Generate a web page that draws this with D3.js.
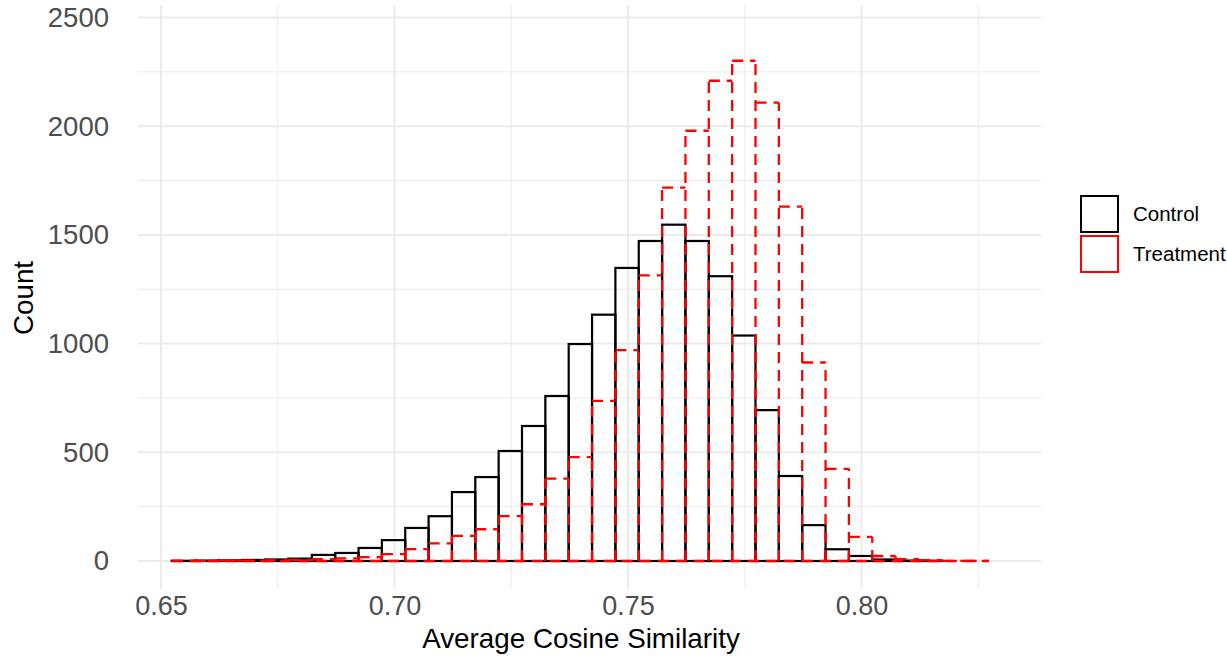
<!DOCTYPE html>
<html>
<head>
<meta charset="utf-8">
<script src="https://cdn.jsdelivr.net/npm/d3@7"></script>
<style>
  body { margin: 0; background: #fff; }
  svg { display: block; font-family: "Liberation Sans", Arial, Helvetica, sans-serif; }
</style>
</head>
<body>
<div id="hist"></div>
<script>
width = 1227
height = 656

// left edge of every bin (bin width 0.005)
binEdges = [0.6523, 0.6573, 0.6623, 0.6673, 0.6723, 0.6773, 0.6823, 0.6873, 0.6923, 0.6973,
            0.7023, 0.7073, 0.7123, 0.7173, 0.7223, 0.7273, 0.7323, 0.7373, 0.7423, 0.7473,
            0.7523, 0.7573, 0.7623, 0.7673, 0.7723, 0.7773, 0.7823, 0.7873, 0.7923, 0.7973,
            0.8023, 0.8073, 0.8123, 0.8173, 0.8223]
binWidth = 0.005

controlCounts = [1, 2, 3, 5, 7, 11, 28, 37, 60, 96,
                 152, 206, 317, 386, 506, 621, 759, 998, 1133, 1348,
                 1472, 1547, 1472, 1310, 1037, 694, 391, 165, 54, 23,
                 7, 2, 1, 0, 0]
treatmentCounts = [1, 1, 2, 2, 3, 5, 8, 12, 18, 32,
                   55, 81, 116, 146, 206, 261, 379, 478, 737, 970,
                   1314, 1717, 1979, 2209, 2301, 2108, 1630, 913, 424, 111,
                   23, 9, 4, 1, 1]

groups = ["Control", "Treatment"]
xTicks = [0.65, 0.70, 0.75, 0.80]
xMinor = [0.675, 0.725, 0.775, 0.825]
yTicks = [0, 500, 1000, 1500, 2000, 2500]
yMinor = [250, 750, 1250, 1750, 2250]

panel = ({ left: 138, right: 1041, top: 5, bottom: 589 })

x = d3.scaleLinear([0.65, 0.80], [161, 861.5])
y = d3.scaleLinear([0, 2500], [561, 17.5])

const svg = d3.select("#hist").append("svg")
    .attr("width", width)
    .attr("height", height)

// grid
grid = g => g
    .attr("stroke", "#EBEBEB")
    .call(g => g.append("g")
        .attr("stroke-width", 1)
        .selectAll("line")
        .data(yMinor)
        .join("line")
        .attr("x1", panel.left).attr("x2", panel.right)
        .attr("y1", d => y(d)).attr("y2", d => y(d)))
    .call(g => g.append("g")
        .attr("stroke-width", 1)
        .selectAll("line")
        .data(xMinor)
        .join("line")
        .attr("y1", panel.top).attr("y2", panel.bottom)
        .attr("x1", d => x(d)).attr("x2", d => x(d)))
    .call(g => g.append("g")
        .attr("stroke-width", 2)
        .selectAll("line")
        .data(yTicks)
        .join("line")
        .attr("x1", panel.left).attr("x2", panel.right)
        .attr("y1", d => y(d)).attr("y2", d => y(d)))
    .call(g => g.append("g")
        .attr("stroke-width", 2)
        .selectAll("line")
        .data(xTicks)
        .join("line")
        .attr("y1", panel.top).attr("y2", panel.bottom)
        .attr("x1", d => x(d)).attr("x2", d => x(d)))

svg.append("g").call(grid)

function bins(counts) {
    return binEdges.map((x0, i) => ({ x0: x0, x1: x0 + binWidth, n: counts[i] }))
}

// control: solid outlined bars
svg.append("g")
    .attr("fill", "none")
    .attr("stroke", "black")
    .attr("stroke-width", 2.2)
    .selectAll("rect")
    .data(bins(controlCounts))
    .join("rect")
    .attr("x", d => x(d.x0))
    .attr("width", d => x(d.x1) - x(d.x0))
    .attr("y", d => y(d.n))
    .attr("height", d => y(0) - y(d.n))

// treatment: dashed outline, each shared edge drawn once from the baseline up
const tBins = bins(treatmentCounts)
const edges = tBins.map((d, i) => ({ at: d.x0, n: Math.max(d.n, i > 0 ? tBins[i - 1].n : 0) }))
edges.push({ at: tBins[tBins.length - 1].x1, n: tBins[tBins.length - 1].n })

const red = svg.append("g")
    .attr("fill", "none")
    .attr("stroke", "#FF0000")
    .attr("stroke-width", 2.3)
    .attr("stroke-dasharray", "11,7")

red.append("line")
    .attr("x1", x(tBins[0].x0)).attr("x2", x(tBins[tBins.length - 1].x1))
    .attr("y1", y(0)).attr("y2", y(0))

red.append("g")
    .selectAll("line")
    .data(tBins)
    .join("line")
    .attr("x1", d => x(d.x0)).attr("x2", d => x(d.x1))
    .attr("y1", d => y(d.n)).attr("y2", d => y(d.n))

red.append("g")
    .selectAll("line")
    .data(edges)
    .join("line")
    .attr("x1", d => x(d.at)).attr("x2", d => x(d.at))
    .attr("y1", y(0)).attr("y2", d => y(d.n))

// axes (theme_minimal: labels only)
xAxis = g => g
    .attr("transform", "translate(0,596)")
    .call(d3.axisBottom(x).tickValues(xTicks).tickFormat(d3.format(".2f")).tickSize(0).tickPadding(0))
    .call(g => g.select(".domain").remove())
    .call(g => g.selectAll("text")
        .attr("fill", "#4D4D4D")
        .attr("font-size", 27)
        .attr("dy", "0.71em"))

yAxis = g => g
    .attr("transform", "translate(109,0)")
    .call(d3.axisLeft(y).tickValues(yTicks).tickFormat(d3.format("d")).tickSize(0).tickPadding(0))
    .call(g => g.select(".domain").remove())
    .call(g => g.selectAll("text")
        .attr("fill", "#4D4D4D")
        .attr("font-size", 27.5))

svg.append("g").call(xAxis).attr("font-family", null)
svg.append("g").call(yAxis).attr("font-family", null)

svg.append("text")
    .attr("x", 581)
    .attr("y", 648)
    .attr("text-anchor", "middle")
    .attr("font-size", 27.8)
    .text("Average Cosine Similarity")

svg.append("text")
    .attr("transform", "translate(33,298) rotate(-90)")
    .attr("text-anchor", "middle")
    .attr("font-size", 27.8)
    .text("Count")

// legend
const legend = svg.append("g")
    .selectAll("g")
    .data(groups)
    .join("g")
    .attr("transform", (d, i) => `translate(1081,${196 + i * 40})`)

legend.append("rect")
    .attr("width", 37)
    .attr("height", 36)
    .attr("fill", "white")
    .attr("stroke", (d, i) => i === 0 ? "black" : "#FF0000")
    .attr("stroke-width", 2)

legend.append("text")
    .attr("x", 52)
    .attr("y", 18)
    .attr("dy", "0.36em")
    .attr("font-size", 20.5)
    .text(d => d)
</script>
</body>
</html>
